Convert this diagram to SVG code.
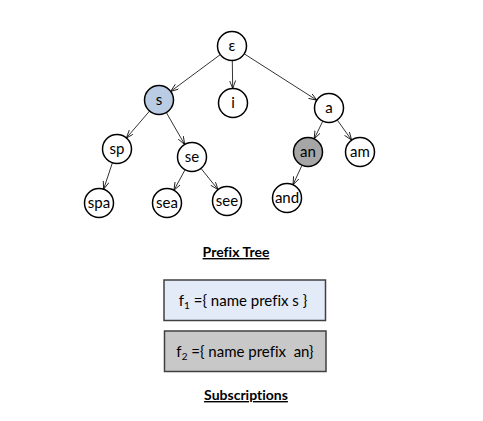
<svg xmlns="http://www.w3.org/2000/svg" width="483" height="421" viewBox="0 0 483 421">
<defs>
<marker id="arr" markerWidth="10" markerHeight="8" refX="8" refY="3" orient="auto" markerUnits="userSpaceOnUse">
<path d="M0,0 L8,3 L0,6" fill="none" stroke="#000" stroke-width="0.8"/>
</marker>
<style>
.n circle{fill:#fff;stroke:#000;stroke-width:1.5}
.n text{font-family:Lato,"Open Sans","Liberation Sans",sans-serif;font-size:15px;text-anchor:middle;dominant-baseline:central;fill:#000}
#edges line{stroke:#000;stroke-width:0.8;marker-end:url(#arr)}
.t{font-family:Lato,"Open Sans","Liberation Sans",sans-serif;font-size:14px;font-weight:bold;text-anchor:middle;text-decoration:underline;font-variant-ligatures:none}
.b text{font-family:Lato,"Open Sans","Liberation Sans",sans-serif;font-size:15px;text-anchor:middle;font-variant-ligatures:none}
.b rect{stroke:#404040;stroke-width:1.5}
</style>
</defs>
<rect width="483" height="421" fill="#fff"/>
<g id="edges">
<line x1="220.3" y1="54.6" x2="170.7" y2="91.4"/>
<line x1="232.3" y1="60.5" x2="232.7" y2="88.5"/>
<line x1="244.2" y1="53.8" x2="316.8" y2="100.2"/>
<line x1="149.6" y1="111" x2="126.4" y2="138"/>
<line x1="166.3" y1="112.5" x2="184.7" y2="144.5"/>
<line x1="112.4" y1="162.8" x2="103.6" y2="189.2"/>
<line x1="185.1" y1="169.7" x2="173.9" y2="190.3"/>
<line x1="201" y1="168.4" x2="218" y2="189.6"/>
<line x1="322.8" y1="121.1" x2="314.2" y2="138.9"/>
<line x1="337.4" y1="120.2" x2="351.6" y2="140.1"/>
<line x1="302" y1="165.2" x2="293" y2="184.8"/>
</g>
<g id="n-eps" class="n"><circle cx="232" cy="46" r="14.5"/><text x="232" y="45">ε</text></g>
<g id="n-s" class="n"><circle cx="159" cy="100" r="14.5" style="fill:#b9cce4"/><text x="159" y="99">s</text></g>
<g id="n-i" class="n"><circle cx="233" cy="103" r="14.5"/><text x="233" y="102">i</text></g>
<g id="n-a" class="n"><circle cx="329" cy="108" r="14.5"/><text x="329" y="107">a</text></g>
<g id="n-sp" class="n"><circle cx="117" cy="149" r="14.5"/><text x="117" y="148">sp</text></g>
<g id="n-se" class="n"><circle cx="192" cy="157" r="14.5"/><text x="192" y="156">se</text></g>
<g id="n-spa" class="n"><circle cx="99" cy="203" r="14.5"/><text x="99" y="202">spa</text></g>
<g id="n-sea" class="n"><circle cx="167" cy="203" r="14.5"/><text x="167" y="202">sea</text></g>
<g id="n-see" class="n"><circle cx="227" cy="201" r="14.5"/><text x="227" y="200">see</text></g>
<g id="n-an" class="n"><circle cx="308" cy="152" r="14.5" style="fill:#a6a6a6"/><text x="308" y="151">an</text></g>
<g id="n-am" class="n"><circle cx="360" cy="152" r="14.5"/><text x="360" y="151">am</text></g>
<g id="n-and" class="n"><circle cx="287" cy="198" r="14.5"/><text x="287" y="197">and</text></g>
<text class="t" x="236" y="257">Prefix Tree</text>
<g id="f1" class="b"><rect x="164" y="280" width="161.5" height="40.5" fill="#e3ebf8"/><text x="243" y="306">f<tspan font-size="10" dy="3">1</tspan><tspan dy="-3"> ={ name prefix s }</tspan></text></g>
<g id="f2" class="b"><rect x="164.5" y="331" width="161.5" height="40.5" fill="#c8c8c8"/><text x="245" y="357" xml:space="preserve">f<tspan font-size="10" dy="3">2</tspan><tspan dy="-3"> ={ name prefix  an}</tspan></text></g>
<text class="t" x="246" y="400">Subscriptions</text>
</svg>
